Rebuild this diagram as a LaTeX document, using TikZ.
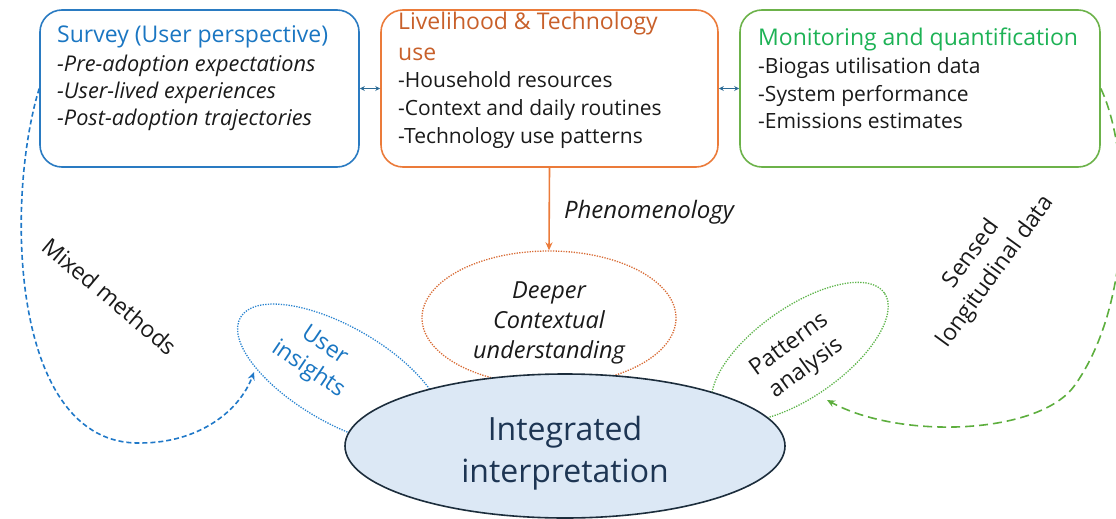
\documentclass[tikz,border=0pt]{standalone}
\usepackage{fontspec}
\setmainfont{Open Sans}
\usetikzlibrary{shapes.geometric,arrows.meta}
\definecolor{ttlblue}{HTML}{1A76C2}
\definecolor{boxblue}{HTML}{2A7BC2}
\definecolor{boxorange}{HTML}{EB7B3A}
\definecolor{ttlorange}{HTML}{C8602A}
\definecolor{boxgreen}{HTML}{6CB24A}
\definecolor{ttlgreen}{HTML}{1DB255}
\definecolor{arrowblue}{HTML}{2C6B96}
\definecolor{dashblue}{HTML}{1F78C8}
\definecolor{dashgreen}{HTML}{5DAE3E}
\definecolor{bigfill}{HTML}{DCE8F5}
\definecolor{navy}{HTML}{1C2D3C}
\definecolor{navytext}{HTML}{1D3553}
\definecolor{dotorange}{HTML}{D86B35}
\definecolor{dotblue}{HTML}{2C85D0}
\definecolor{dotgreen}{HTML}{5DB44A}
\definecolor{txt}{HTML}{1A1A1A}
\begin{document}
\begin{tikzpicture}[x=1pt,y=-1pt,
 box/.style={draw, rounded corners=22pt, line width=1.6pt, minimum height=157pt, inner sep=0pt},
 body/.style={anchor=base west, inner sep=0pt, font=\fontsize{21}{27}\selectfont, text=txt},
 ibody/.style={anchor=base west, inner sep=0pt, font=\fontsize{21.7}{27}\selectfont\itshape, text=txt},
 ttl/.style={anchor=base west, inner sep=0pt, font=\fontsize{23}{29}\selectfont},
 dotell/.style={ellipse, draw, line width=1.3pt, dash pattern=on 1.3pt off 1.3pt, inner sep=0pt},
 dbl/.style={{Stealth[length=5pt,width=5pt]}-{Stealth[length=5pt,width=5pt]}, line width=1.2pt, draw=arrowblue},
 lbl/.style={inner sep=0pt, align=center, font=\fontsize{23}{29}\selectfont, text=txt},
 dashcurve/.style={line width=1.6pt, -{Stealth[length=8pt,width=7pt]}}
]
\useasboundingbox (0,0) rectangle (1116,519);

% top boxes
\node[box, draw=boxblue, minimum width=319pt] (b1) at (199.5,88.5) {};
\node[box, draw=boxorange, minimum width=337pt] (b2) at (549.5,88.5) {};
\node[box, draw=boxgreen, minimum width=360pt] (b3) at (920,88.5) {};

\node[ttl, text=ttlblue] (t1) at (57,43) {Survey (User perspective)};
\node[ibody] (t1a) at (57,71) {-Pre-adoption expectations};
\node[ibody] (t1b) at (57,98) {-User-lived experiences};
\node[ibody] (t1c) at (57,125) {-Post-adoption trajectories};

\node[ttl, text=ttlorange] (t2) at (398,30) {Livelihood \& Technology};
\node[ttl, text=ttlorange] (t2u) at (398,60) {use};
\node[body] (t2a) at (398,88) {-Household resources};
\node[body] (t2b) at (398,115) {-Context and daily routines};
\node[body] (t2c) at (398,143) {-Technology use patterns};

\node[ttl, text=ttlgreen] (t3) at (758,46) {Monitoring and quantification};
\node[body] (t3a) at (758,74) {-Biogas utilisation data};
\node[body] (t3b) at (758,101) {-System performance};
\node[body] (t3c) at (758,128) {-Emissions estimates};

\draw[dbl] (b1.east) -- (b2.west);
\draw[dbl] (b2.east) -- (b3.west);

% dotted ellipses
\node[dotell, draw=dotorange, minimum width=254pt, minimum height=134pt] (deep) at (549,318) {};
\node[lbl, font=\fontsize{23.5}{30}\selectfont\itshape] (deepl) at (549,323) {Deeper\\Contextual\\understanding};
\node[dotell, draw=dotblue, minimum width=230pt, minimum height=96pt, rotate=-30] (ins) at (340,375) {};
\node[lbl, text=ttlblue, rotate=-34] (insl) at (316,358) {User\\insights};
\node[dotell, draw=dotgreen, minimum width=206pt, minimum height=90pt, rotate=35] (pat) at (800,352) {};
\node[lbl, rotate=36] (patl) at (798,357) {Patterns\\analysis};

% central ellipse
\node[ellipse, draw=navy, line width=1.6pt, fill=bigfill, minimum width=440pt, minimum height=144pt,
      inner sep=0pt] (big) at (565,446) {};
\node[inner sep=0pt, align=center, text=navytext, font=\fontsize{32}{42}\selectfont] (bigl) at (565,453) {Integrated\\interpretation};

% phenomenology arrow
\draw[line width=1.6pt, draw=boxorange, -{Stealth[length=8pt,width=7pt]}] (b2.south) -- (deep.north);
\node[lbl, font=\fontsize{24}{28}\selectfont\itshape] (phen) at (649,212) {Phenomenology};

% dashed connectors
\coordinate (insend) at (254,372);
\coordinate (patend) at (827,400);
\draw[dashcurve, draw=dashblue, dash pattern=on 5pt off 3pt] (b1.west) .. controls (5,200) and (10,445) .. (140,443) .. controls (200,443) and (240,410) .. (insend);
\draw[dashcurve, draw=dashgreen, dash pattern=on 9pt off 5pt] (b3.east) .. controls (1130,150) and (1135,300) .. (1075,385) .. controls (1040,435) and (900,440) .. (patend);

\node[lbl, rotate=-40] (mm) at (110,296) {Mixed methods};
\node[lbl, rotate=54, font=\fontsize{23}{30}\selectfont] (sld) at (984,263) {Sensed\\longitudinal data};
\end{tikzpicture}
\end{document}
